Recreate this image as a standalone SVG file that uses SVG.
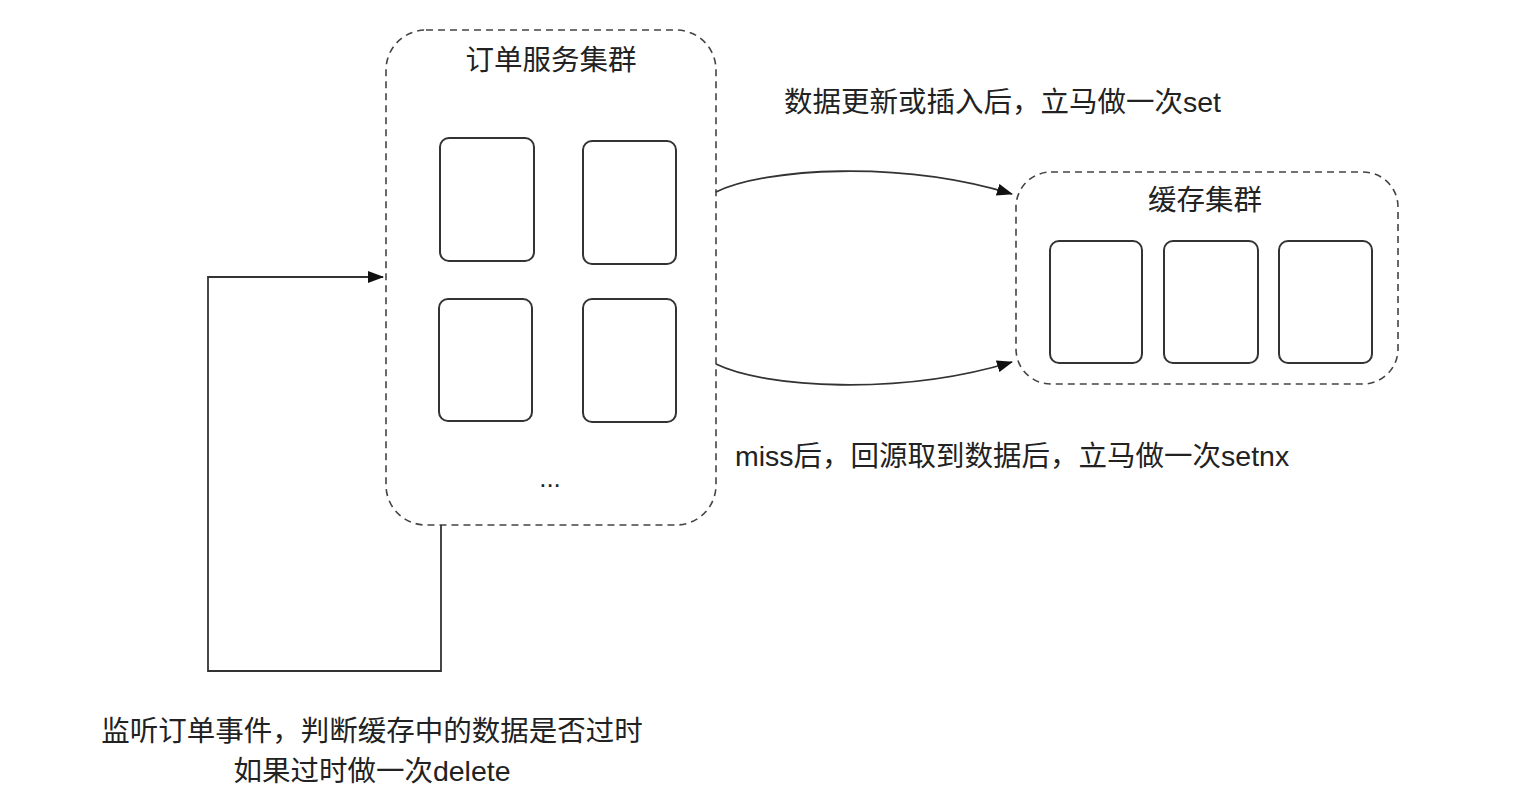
<svg xmlns="http://www.w3.org/2000/svg" width="1514" height="802" viewBox="0 0 1514 802">
<style>
.cluster{fill:#fff;stroke:#444;stroke-width:1.6;stroke-dasharray:7 5}
.box{fill:#fff;stroke:#333;stroke-width:2}
.edge{fill:none;stroke:#333;stroke-width:1.8}
text{font-family:"Liberation Sans","Noto Sans CJK SC",sans-serif;font-size:28.5px;fill:#222}
.c{text-anchor:middle}
</style>
<defs>
<marker id="arr" markerWidth="16" markerHeight="12" refX="15" refY="6" orient="auto" markerUnits="userSpaceOnUse">
<path d="M0,0 L16,6 L0,12 Z" fill="#111"/>
</marker>
</defs>
<rect width="1514" height="802" fill="#fff"/>
<g id="order-cluster">
<rect class="cluster" x="386" y="30" width="330" height="495" rx="40"/>
<text class="c" x="551" y="70">订单服务集群</text>
<rect class="box" x="440" y="138" width="94" height="123" rx="9"/>
<rect class="box" x="583" y="141" width="93" height="123" rx="9"/>
<rect class="box" x="439" y="299" width="93" height="122" rx="9"/>
<rect class="box" x="583" y="299" width="93" height="123" rx="9"/>
<text class="c" x="550" y="487" style="font-size:26px">...</text>
</g>
<g id="cache-cluster">
<rect class="cluster" x="1016" y="172" width="382" height="212" rx="35"/>
<text class="c" x="1205" y="210">缓存集群</text>
<rect class="box" x="1050" y="241" width="92" height="122" rx="9"/>
<rect class="box" x="1164" y="241" width="94" height="122" rx="9"/>
<rect class="box" x="1279" y="241" width="93" height="122" rx="9"/>
</g>
<g id="connectors">
<path class="edge" d="M716,192 C765,168 900,160 1012,194" marker-end="url(#arr)"/>
<path class="edge" d="M716,364 C765,388 900,396 1012,362" marker-end="url(#arr)"/>
<path class="edge" d="M441,525 L441,671 L208,671 L208,277 L383,277" marker-end="url(#arr)"/>
</g>
<g id="labels">
<text x="784" y="112">数据更新或插入后，立马做一次set</text>
<text x="735" y="466">miss后，回源取到数据后，立马做一次setnx</text>
<text class="c" x="372" y="741">监听订单事件，判断缓存中的数据是否过时</text>
<text class="c" x="372" y="781">如果过时做一次delete</text>
</g>
</svg>
